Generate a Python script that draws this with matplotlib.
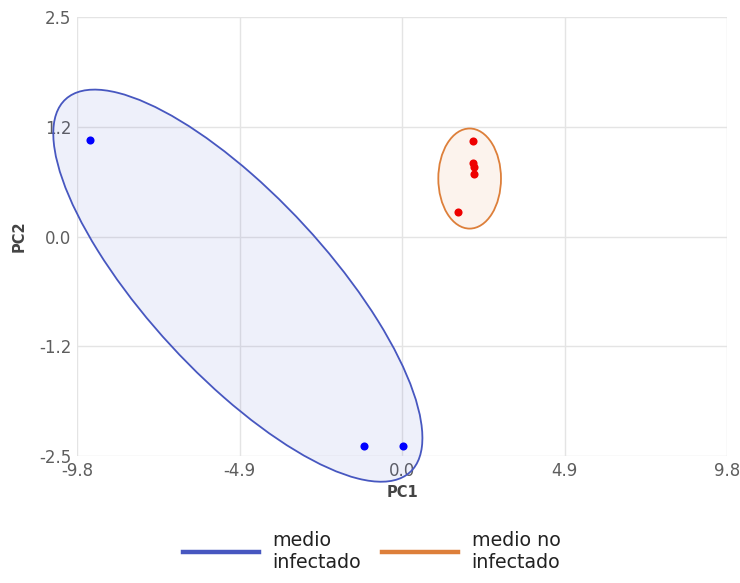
import numpy as np
import matplotlib
matplotlib.use("Agg")
import matplotlib.pyplot as plt
from matplotlib.patches import Ellipse
from matplotlib.lines import Line2D

plt.rcParams['font.family'] = ['DejaVu Sans']

# PCA scores
infected_pc1 = [-9.41, -1.15, 0.02]
infected_pc2 = [1.10, -2.39, -2.39]
uninfected_pc1 = [2.13, 2.13, 2.16, 2.17, 1.70]
uninfected_pc2 = [1.085, 0.84, 0.79, 0.71, 0.28]

# group ellipses: centre (pc1, pc2), full width, full height, angle (deg)
infected_ellipse = [(-4.95, -0.56), 11.69, 2.68, -18.3]
uninfected_ellipse = [(2.04, 0.66), 1.89, 1.14, 0.0]

group_labels = ["medio\ninfectado", "medio no\ninfectado"]

x_ticks = [-9.8, -4.9, 0.0, 4.9, 9.8]
x_tick_labels = ["-9.8", "-4.9", "0.0", "4.9", "9.8"]
y_ticks = [-2.5, -1.25, 0.0, 1.25, 2.5]
y_tick_labels = ["-2.5", "-1.2", "0.0", "1.2", "2.5"]

blue_edge = "#4757c0"
blue_fill = (0.29, 0.36, 0.80, 0.09)
orange_edge = "#dd7f3a"
orange_fill = (0.87, 0.50, 0.23, 0.09)

fig = plt.figure(figsize=(7.40, 5.83), dpi=100)
ax = fig.add_axes([77 / 740, 1 - 456 / 583, 650 / 740, 439 / 583])

ax.set_xlim(x_ticks[0], x_ticks[-1])
ax.set_ylim(y_ticks[0], y_ticks[-1])
ax.set_xticks(x_ticks)
ax.set_xticklabels(x_tick_labels)
ax.set_yticks(y_ticks)
ax.set_yticklabels(y_tick_labels)
ax.grid(True, color="#e4e4e4", linewidth=1.0)
ax.set_axisbelow(True)
for s in ax.spines.values():
    s.set_visible(False)
ax.tick_params(length=0, labelsize=12, labelcolor="#5e5e5e", pad=4)

for (c, w, h, a), ec, fc in [(infected_ellipse, blue_edge, blue_fill),
                             (uninfected_ellipse, orange_edge, orange_fill)]:
    e = Ellipse(c, w, h, angle=a, facecolor=fc, edgecolor=ec,
                linewidth=1.3, clip_on=False, zorder=2)
    ax.add_patch(e)

ax.scatter(infected_pc1, infected_pc2, s=34, color="#0000ff", zorder=3,
           linewidths=0, clip_on=False)
ax.scatter(uninfected_pc1, uninfected_pc2, s=34, color="#ee0000", zorder=3,
           linewidths=0, clip_on=False)

ax.set_xlabel("PC1", fontsize=10.5, fontweight="bold", color="#444444",
              labelpad=4)
ax.set_ylabel("PC2", fontsize=10.5, fontweight="bold", color="#444444",
              labelpad=9)

handles = [Line2D([], [], color=blue_edge, linewidth=3.2),
           Line2D([], [], color=orange_edge, linewidth=3.2)]
fig.legend(handles, group_labels, loc="center", ncol=2, frameon=False,
           bbox_to_anchor=(372 / 740, 1 - 551 / 583), fontsize=13.7,
           handlelength=3.95, handletextpad=0.74, columnspacing=1.1,
           labelcolor="#222222")

fig.savefig("out.png", dpi=100, facecolor="white")
